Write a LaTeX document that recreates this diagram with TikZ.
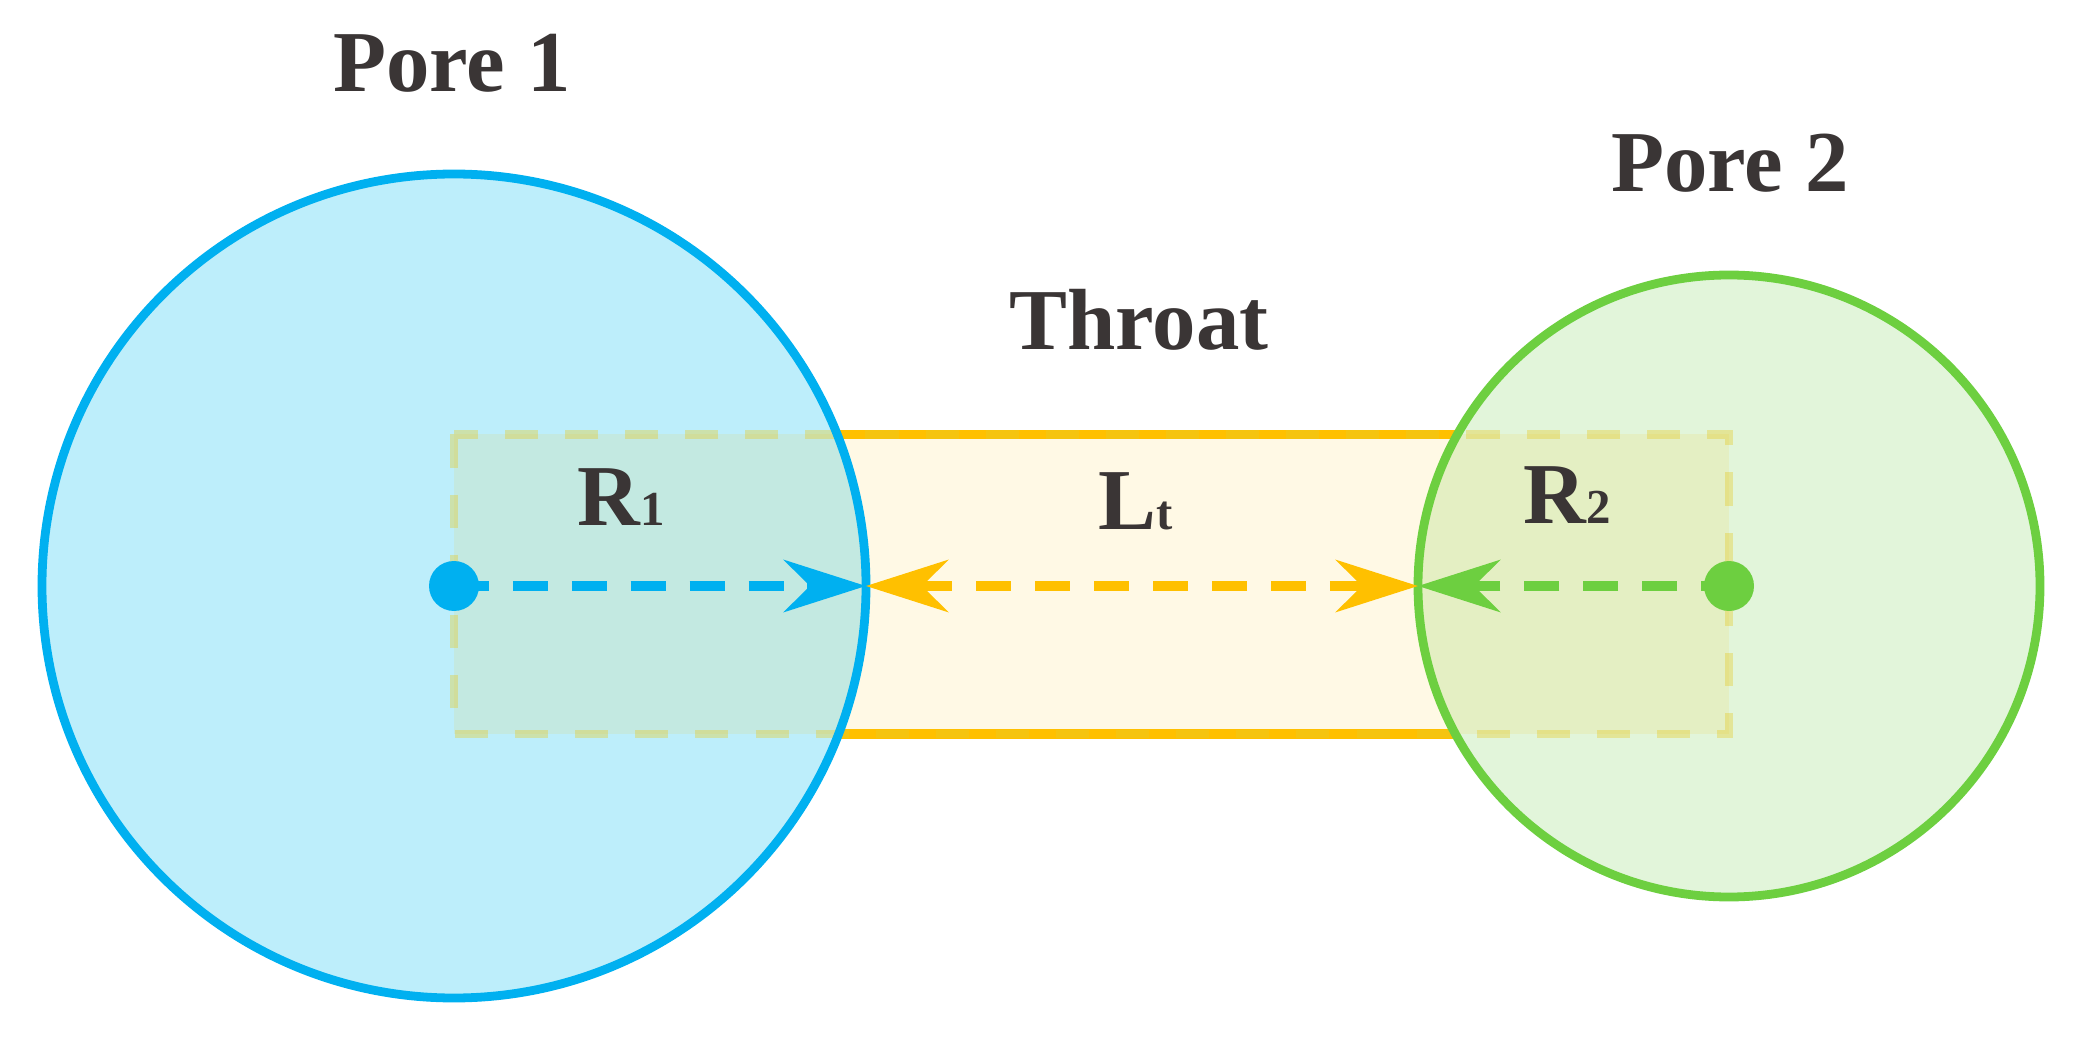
\documentclass[tikz,border=0pt]{standalone}
\usepackage{fontspec}
\setmainfont{Liberation Serif}
\usepackage{tikz}
\usetikzlibrary{arrows.meta,positioning}
\definecolor{poreblue}{HTML}{00B0F0}
\definecolor{softblue}{HTML}{BDEEFB}
\definecolor{poregreen}{HTML}{6DCF40}
\definecolor{softgreen}{HTML}{E2F5DA}
\definecolor{throat}{HTML}{FFC000}
\definecolor{tint}{HTML}{E6CC2A}
\definecolor{ink}{HTML}{3A3535}

\newcommand{\sublabel}[2]{#1{\fontsize{13.9}{16}\selectfont #2}}

\begin{document}
\begin{tikzpicture}[
  font=\fontsize{24.7}{29}\selectfont\bfseries,
  pore/.style={circle, inner sep=0pt, outer sep=0pt},
  rim/.style={line width=2.5pt},
  dim/.style={line width=2.85pt, dash pattern=on 9.96pt off 6.8pt},
  tip/.style={-{Stealth[length=8.2mm, width=5.2mm, inset=2.6mm]}},
  tips/.style={{Stealth[length=8.2mm, width=5.2mm, inset=2.6mm]}-{Stealth[length=8.2mm, width=5.2mm, inset=2.6mm]}},
  zone/.style={fill=throat, fill opacity=0.1, draw=tint, draw opacity=0.38, line width=2.5pt, dash pattern=on 9.4pt off 7.7pt},
  dot/.style={circle, inner sep=0pt, minimum size=5mm},
  txt/.style={anchor=base, text=ink, inner sep=0pt}
]
\useasboundingbox (0,0) rectangle (20.84,-10.37);
% pores
\node[pore, minimum size=8.24cm] (pore1) at (4.54,-5.86) {};
\node[pore, minimum size=6.22cm] (pore2) at (17.29,-5.86) {};
\coordinate (t1) at (4.54,-4.345);
\coordinate (t2) at (17.29,-4.345);
\coordinate (b1) at (4.54,-7.34);
\coordinate (b2) at (17.29,-7.34);
\draw[throat, line width=2.6pt] (t1) -- (t2) (b1) -- (b2);
\fill[softblue] (pore1) circle[radius=4.12cm];
\fill[softgreen] (pore2) circle[radius=3.11cm];
% throat zone
\draw[zone] (t1) rectangle (b2);
\draw[rim, poreblue] (pore1) circle[radius=4.12cm];
\draw[rim, poregreen] (pore2) circle[radius=3.11cm];
% lengths
\draw[dim, poreblue, tip] (pore1.center) -- (pore1.east);
\draw[dim, throat, tips] (pore1.east) -- (pore2.west);
\draw[dim, poregreen, tip, dash phase=2pt] (pore2.center) -- (pore2.west);
\node[dot, fill=poreblue] (c1) at (pore1.center) {};
\node[dot, fill=poregreen] (c2) at (pore2.center) {};
% labels
\node[txt] (lab1) at (4.52,-0.92) {Pore 1};
\node[txt] (lab2) at (17.30,-1.92) {Pore 2};
\node[txt] (labt) at (11.39,-3.50) {Throat};
\node[txt] (r1) at (6.21,-5.26) {\sublabel{R}{1}};
\node[txt] (r2) at (15.67,-5.23) {\sublabel{R}{2}};
\node[txt] (lt) at (11.36,-5.30) {\sublabel{L}{t}};
\end{tikzpicture}
\end{document}
